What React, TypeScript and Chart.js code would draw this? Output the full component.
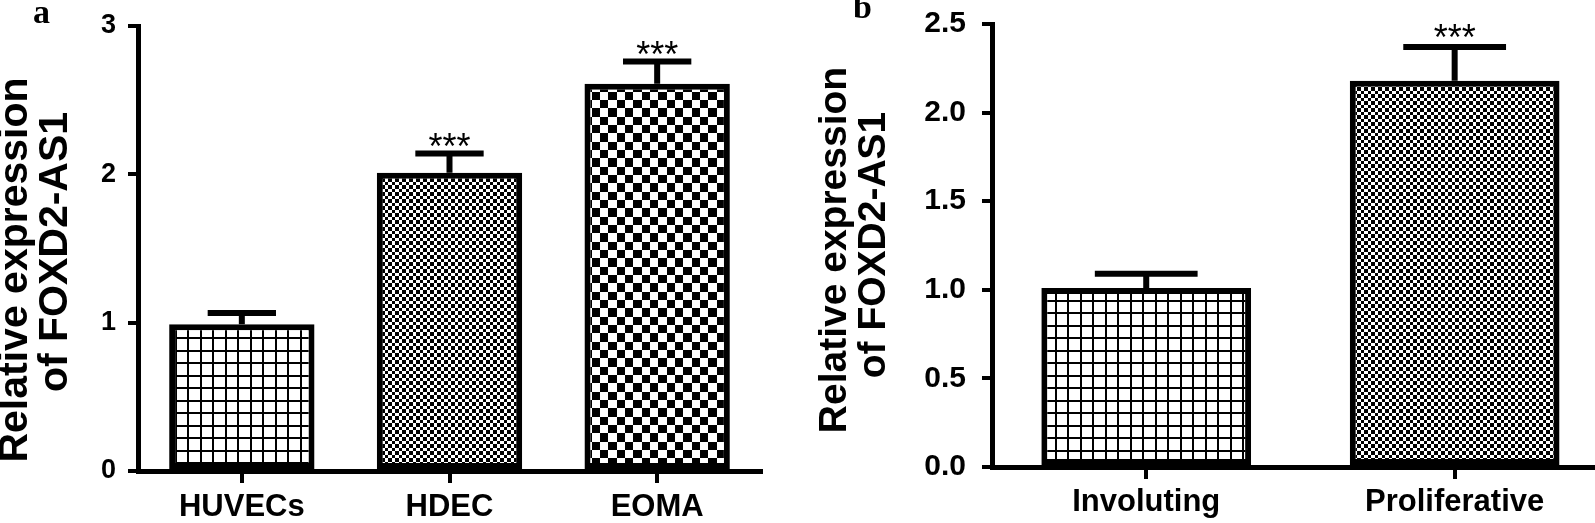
import React, { useEffect, useRef } from 'react';
import { Chart, registerables } from 'chart.js';

Chart.register(...registerables);

// ---------- data ----------
const categoriesA = ['HUVECs', 'HDEC', 'EOMA'];
const valuesA = [0.99, 2.01, 2.61];
const errorsA = [0.075, 0.13, 0.15];
const significanceA = ['', '***', '***'];
const yTicksA = [0, 1, 2, 3];

const categoriesB = ['Involuting', 'Proliferative'];
const valuesB = [1.01, 2.18];
const errorsB = [0.08, 0.19];
const significanceB = ['', '***'];
const yTicksB = [0, 0.5, 1.0, 1.5, 2.0, 2.5];

const yTitle = ['Relative expression', 'of FOXD2-AS1'];
const panelLetters = ['a', 'b'];

const FAMILY = '"Liberation Sans", Arial, Helvetica, sans-serif';

// ---------- patterns ----------
function makePattern(kind: 'grid' | 'fine' | 'coarse'): CanvasPattern | string {
  const c = document.createElement('canvas');
  const ctx = c.getContext('2d');
  if (!ctx) return '#888';
  if (kind === 'grid') {
    c.width = 25;
    c.height = 25;
    ctx.fillStyle = '#fff';
    ctx.fillRect(0, 0, 25, 25);
    ctx.fillStyle = '#000';
    for (const p of [0, 12]) {
      ctx.fillRect(p, 0, 2, 25);
      ctx.fillRect(0, p, 25, 2);
    }
  } else {
    const edges = kind === 'fine' ? [0, 3, 7, 10, 14] : [0, 8, 17, 25, 33, 42, 50];
    const size = edges[edges.length - 1];
    c.width = size;
    c.height = size;
    ctx.fillStyle = '#fff';
    ctx.fillRect(0, 0, size, size);
    ctx.fillStyle = '#000';
    for (let i = 0; i < edges.length - 1; i++) {
      for (let j = 0; j < edges.length - 1; j++) {
        if ((i + j) % 2 === 0) {
          ctx.fillRect(edges[i], edges[j], edges[i + 1] - edges[i], edges[j + 1] - edges[j]);
        }
      }
    }
  }
  return ctx.createPattern(c, 'repeat') || '#888';
}

// ---------- plugins ----------
const errorBarPlugin = {
  id: 'errorBars',
  afterDatasetsDraw(chart: any, _args: any, opts: any) {
    const { ctx } = chart;
    const meta = chart.getDatasetMeta(0);
    const yScale = chart.scales.y;
    ctx.save();
    ctx.strokeStyle = '#000';
    ctx.lineWidth = opts.lineWidth;
    ctx.lineCap = 'butt';
    meta.data.forEach((bar: any, i: number) => {
      const v = opts.values[i];
      const e = opts.errors[i];
      const x = bar.x;
      const yTop = yScale.getPixelForValue(v + e);
      const half = (bar.width * opts.capRatio) / 2;
      ctx.beginPath();
      ctx.moveTo(x, bar.y);
      ctx.lineTo(x, yTop);
      ctx.moveTo(x - half, yTop);
      ctx.lineTo(x + half, yTop);
      ctx.stroke();
      const mark = opts.marks[i];
      if (mark) {
        ctx.fillStyle = '#000';
        ctx.font = `${opts.markSize}px ${FAMILY}`;
        ctx.textAlign = 'center';
        ctx.textBaseline = 'alphabetic';
        ctx.fillText(mark, x, yTop + opts.markOffset);
      }
    });
    ctx.restore();
  },
  afterDraw(chart: any, _args: any, opts: any) {
    const { ctx } = chart;
    ctx.save();
    ctx.fillStyle = '#000';
    // rotated axis title, one line at a time
    if (opts.titleLines) {
      ctx.font = `bold ${opts.titleSize}px ${FAMILY}`;
      ctx.textAlign = 'center';
      ctx.textBaseline = 'middle';
      opts.titleLines.forEach((line: string, i: number) => {
        ctx.save();
        ctx.translate(opts.titleX[i], opts.titleY[i]);
        ctx.rotate(-Math.PI / 2);
        ctx.fillText(line, 0, 0);
        ctx.restore();
      });
    }
    if (opts.letter) {
      ctx.font = `bold 34px "Liberation Serif", "Times New Roman", serif`;
      ctx.textAlign = 'left';
      ctx.textBaseline = 'alphabetic';
      ctx.fillText(opts.letter, opts.letterX, opts.letterY);
    }
    ctx.restore();
  },
};

function fixY(width: number) {
  return (s: any) => {
    s.width = width;
    s.paddingTop = 0;
    s.paddingBottom = 0;
  };
}

function fixX(height: number) {
  return (s: any) => {
    s.height = height;
    s.paddingLeft = 0;
    s.paddingRight = 0;
  };
}

function buildA(patterns: any[]) {
  return {
    type: 'bar',
    data: {
      labels: categoriesA,
      datasets: [
        {
          data: valuesA,
          backgroundColor: patterns,
          borderColor: '#000',
          borderWidth: 6,
          borderSkipped: false,
          barPercentage: 0.7,
          categoryPercentage: 1,
        },
      ],
    },
    options: {
      animation: false,
      responsive: false,
      maintainAspectRatio: false,
      layout: { padding: { top: 26, right: 19, bottom: 0, left: 0 } },
      plugins: {
        legend: { display: false },
        tooltip: { enabled: false },
        errorBars: {
          values: valuesA,
          errors: errorsA,
          marks: significanceA,
          lineWidth: 6,
          capRatio: 0.47,
          markSize: 36,
          markOffset: 5,
          letter: panelLetters[0],
          letterX: 33,
          letterY: 23,
          titleLines: yTitle,
          titleSize: 41,
          titleX: [16, 56],
          titleY: [270, 252],
        },
      },
      scales: {
        x: {
          offset: true,
          grid: { offset: false, drawOnChartArea: false, drawTicks: true, tickLength: 12, lineWidth: 4, color: '#000' },
          border: { display: true, color: '#000', width: 5 },
          ticks: { color: '#000', font: { family: FAMILY, weight: 'bold', size: 31 }, padding: 6, maxRotation: 0 },
          afterFit: fixX(52),
        },
        y: {
          min: 0,
          max: 3,
          afterBuildTicks: (s: any) => {
            s.ticks = yTicksA.map((v) => ({ value: v }));
          },
          ticks: { color: '#000', font: { family: FAMILY, weight: 'bold', size: 27 }, padding: 12, callback: (v: any) => String(v) },
          grid: { drawOnChartArea: false, drawTicks: true, tickLength: 10, lineWidth: 4, color: '#000' },
          border: { display: true, color: '#000', width: 5 },
          title: { display: false },
          afterFit: fixY(138),
        },
      },
    },
    plugins: [errorBarPlugin],
  };
}

function buildB(patterns: any[]) {
  return {
    type: 'bar',
    data: {
      datasets: [
        {
          data: valuesB.map((v, i) => ({ x: i, y: v })),
          backgroundColor: patterns,
          borderColor: '#000',
          borderWidth: 6,
          borderSkipped: false,
          barPercentage: 0.68,
          categoryPercentage: 1,
        },
      ],
    },
    options: {
      animation: false,
      responsive: false,
      maintainAspectRatio: false,
      layout: { padding: { top: 24, right: 0, bottom: 0, left: 0 } },
      plugins: {
        legend: { display: false },
        tooltip: { enabled: false },
        errorBars: {
          values: valuesB,
          errors: errorsB,
          marks: significanceB,
          lineWidth: 6,
          capRatio: 0.49,
          markSize: 36,
          markOffset: 3,
          letter: panelLetters[1],
          letterX: 73,
          letterY: 18,
          titleLines: yTitle,
          titleSize: 39,
          titleX: [55, 94],
          titleY: [250, 245],
        },
      },
      scales: {
        x: {
          type: 'linear',
          min: -0.5,
          max: 1.455,
          offset: false,
          afterBuildTicks: (s: any) => {
            s.ticks = categoriesB.map((_, i) => ({ value: i }));
          },
          grid: { offset: false, drawOnChartArea: false, drawTicks: true, tickLength: 12, lineWidth: 4, color: '#000' },
          border: { display: true, color: '#000', width: 5 },
          ticks: {
            color: '#000',
            font: { family: FAMILY, weight: 'bold', size: 31 },
            padding: 5,
            maxRotation: 0,
            autoSkip: false,
            callback: (v: any) => categoriesB[Math.round(Number(v))] ?? '',
          },
          afterFit: fixX(56),
        },
        y: {
          min: 0,
          max: 2.5,
          afterBuildTicks: (s: any) => {
            s.ticks = yTicksB.map((v) => ({ value: v }));
          },
          ticks: { color: '#000', font: { family: FAMILY, weight: 'bold', size: 30 }, padding: 16, callback: (v: any) => Number(v).toFixed(1) },
          grid: { drawOnChartArea: false, drawTicks: true, tickLength: 10, lineWidth: 4, color: '#000' },
          border: { display: true, color: '#000', width: 5 },
          title: { display: false },
          afterFit: fixY(212),
        },
      },
    },
    plugins: [errorBarPlugin],
  };
}

export default function App() {
  const refA = useRef<HTMLCanvasElement | null>(null);
  const refB = useRef<HTMLCanvasElement | null>(null);

  useEffect(() => {
    const grid = makePattern('grid');
    const fine = makePattern('fine');
    const coarse = makePattern('coarse');
    const a = new Chart(refA.current as HTMLCanvasElement, buildA([grid, fine, coarse]) as any);
    const b = new Chart(refB.current as HTMLCanvasElement, buildB([grid, fine]) as any);
    return () => {
      a.destroy();
      b.destroy();
    };
  }, []);

  return (
    <div style={{ position: 'fixed', left: 0, top: 0, width: 1595, height: 523, background: '#fff', overflow: 'hidden' }}>
      <canvas ref={refA} width={780} height={523} style={{ position: 'absolute', left: 0, top: 0, width: 780, height: 523 }} />
      <canvas ref={refB} width={815} height={523} style={{ position: 'absolute', left: 780, top: 0, width: 815, height: 523 }} />
    </div>
  );
}
